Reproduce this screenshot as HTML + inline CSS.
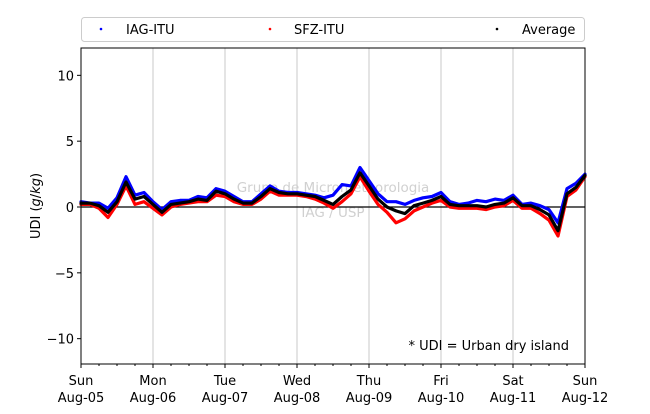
<!DOCTYPE html>
<html><head><meta charset="utf-8"><style>body{margin:0;background:#fff}svg{font-family:"DejaVu Sans","Liberation Sans",sans-serif}</style></head>
<body>
<svg id="c" width="650" height="409"></svg>
<script>
const dayLabels=["Sun","Mon","Tue","Wed","Thu","Fri","Sat","Sun"];
const dateLabels=["Aug-05","Aug-06","Aug-07","Aug-08","Aug-09","Aug-10","Aug-11","Aug-12"];
const yTicks=[-10,-5,0,5,10];
const avgVals=[0.3,0.3,0.1,-0.4,0.4,1.9,0.6,0.8, 0.2,-0.4,0.2,0.3,0.4,0.6,0.5,1.2, 1.0,0.6,0.3,0.3,0.8,1.4,1.1,1.0, 1.0,0.9,0.8,0.5,0.2,0.8,1.3,2.6, 1.6,0.6,0.0,-0.3,-0.5,0.1,0.3,0.5, 0.8,0.2,0.1,0.1,0.1,0.0,0.2,0.3, 0.7,0.1,0.1,-0.2,-0.6,-1.8,1.0,1.5,2.4];
const iagVals=[0.4,0.3,0.3,-0.1,0.7,2.3,0.9,1.1, 0.4,-0.2,0.4,0.5,0.5,0.8,0.7,1.4, 1.2,0.8,0.4,0.4,1.0,1.6,1.2,1.1, 1.1,1.0,0.9,0.7,0.9,1.7,1.6,3.0, 2.0,1.0,0.4,0.4,0.2,0.5,0.7,0.8, 1.1,0.4,0.2,0.3,0.5,0.4,0.6,0.5, 0.9,0.2,0.3,0.1,-0.2,-1.2,1.4,1.8,2.5];
const sfzVals=[0.2,0.2,-0.1,-0.8,0.2,1.6,0.2,0.4, -0.1,-0.6,0.0,0.2,0.3,0.4,0.4,0.9, 0.8,0.4,0.2,0.2,0.6,1.2,0.9,0.9, 0.9,0.8,0.6,0.3,-0.1,0.4,1.0,2.3, 1.2,0.2,-0.4,-1.2,-0.9,-0.3,0.0,0.3, 0.5,0.0,-0.1,-0.1,-0.1,-0.2,0.0,0.1, 0.5,-0.1,-0.1,-0.5,-1.0,-2.2,0.8,1.3,2.3];
const S="http://www.w3.org/2000/svg",svg=document.getElementById('c');
const L=81,R=585,T=48,B=364;
const xs=h=>L+(R-L)*h/168, ys=v=>207-v*(B-T)/24;
function el(t,a,txt){const e=document.createElementNS(S,t);for(const k in a)e.setAttribute(k,a[k]);if(txt!=null)e.textContent=txt;svg.appendChild(e);return e;}
for(let d=1;d<7;d++){const g=el('line',{x1:xs(d*24),x2:xs(d*24),y1:T,y2:B,stroke:'#c8c8c8','stroke-width':1});}
const wm1=el('text',{x:333,y:192,'text-anchor':'middle','font-size':13.5,fill:'#d0d0d0'},'Grupo de Micrometeorologia');

const wm2=el('text',{x:333,y:217,'text-anchor':'middle','font-size':13.5,fill:'#d0d0d0'},'IAG / USP');

const z=el('line',{x1:L,x2:R,y1:ys(0),y2:ys(0),stroke:'#000','stroke-width':1.2});
function series(vals,col,name){const pts=vals.map((v,i)=>xs(i*3).toFixed(1)+','+ys(v).toFixed(1)).join(' ');
const p=el('polyline',{points:pts,fill:'none',stroke:col,'stroke-width':3.2,'stroke-linejoin':'round','stroke-linecap':'round'});
}
series(iagVals,'#0000ff','series-iag-itu');series(sfzVals,'#ff0000','series-sfz-itu');series(avgVals,'#000','series-average');
const fr=el('rect',{x:L,y:T,width:R-L,height:B-T,fill:'none',stroke:'#000','stroke-width':1});
for(let h=0;h<=168;h+=6){const big=h%24==0;const t=el('line',{x1:xs(h),x2:xs(h),y1:B,y2:B+(big?4:2),stroke:'#000'});}
dayLabels.forEach((d,i)=>{const a=el('text',{x:xs(i*24),y:385,'text-anchor':'middle','font-size':13},d);
const b=el('text',{x:xs(i*24),y:402,'text-anchor':'middle','font-size':13},dateLabels[i]);});
yTicks.forEach(v=>{const t=el('line',{x1:L-4,x2:L,y1:ys(v),y2:ys(v),stroke:'#000'});
const lb=el('text',{x:L-7,y:ys(v)+5,'text-anchor':'end','font-size':13},v<0?'\u2212'+(-v):String(v));});
const yl=el('text',{x:40,y:206,'text-anchor':'middle','font-size':13,transform:'rotate(-90 40 206)'});
yl.innerHTML='UDI (<tspan font-style="italic">g</tspan>/<tspan font-style="italic">kg</tspan>)';
const an=el('text',{x:569,y:350,'text-anchor':'end','font-size':13},'* UDI = Urban dry island');
const lg=el('rect',{x:81.5,y:17.5,width:503,height:24,fill:'#fff',stroke:'#ccc',rx:3});
[[101,'#0000ff','IAG-ITU',126],[270,'#ff0000','SFZ-ITU',294],[497,'#000','Average',522]].forEach(([x,c,t,tx])=>{
const d=el('circle',{cx:x,cy:29,r:1.3,fill:c});
const e=el('text',{x:tx,y:34,'font-size':13},t);});
</script>
</body></html>
